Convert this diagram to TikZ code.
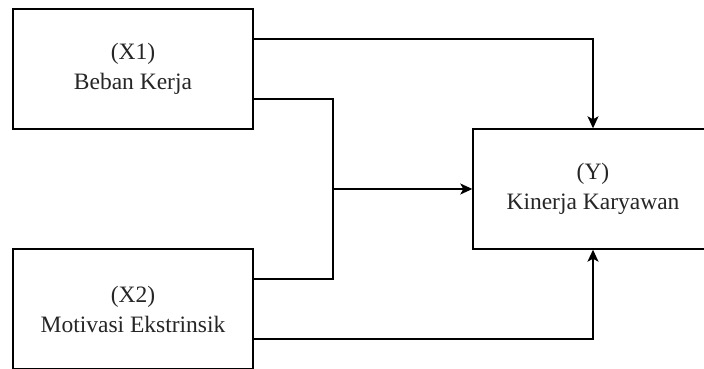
\documentclass[tikz,border=0pt]{standalone}
\usepackage{fontspec}
\setmainfont{Liberation Serif}
\usetikzlibrary{arrows.meta}
\begin{document}
\begin{tikzpicture}[x=1pt,y=1pt,
  varbox/.style={draw=black, line width=1.4pt, minimum width=240pt, minimum height=120pt,
    inner sep=0pt, align=center, text=black!85, font=\fontsize{23.5}{30}\selectfont},
  link/.style={draw=black, line width=1.4pt},
  arr/.style={link, -{Stealth[length=12pt,width=11pt,inset=3pt]}}]
\useasboundingbox (0,0) rectangle (704,369);
\fill[white] (0,0) rectangle (704,369);
\node[varbox] (x1) at (133,300) {(X1)\\Beban Kerja};
\node[varbox] (x2) at (133,60) {(X2)\\Motivasi Ekstrinsik};
\node[varbox] (y) at (593,180) {(Y)\\Kinerja Karyawan};
\coordinate (j) at (333,180);
\draw[arr] ([yshift=30pt]x1.east) -| (y.north);
\draw[link] ([yshift=-30pt]x1.east) -| (j) |- ([yshift=30pt]x2.east);
\draw[arr] (j) -- (y.west);
\draw[arr] ([yshift=-30pt]x2.east) -| (y.south);
\end{tikzpicture}
\end{document}
